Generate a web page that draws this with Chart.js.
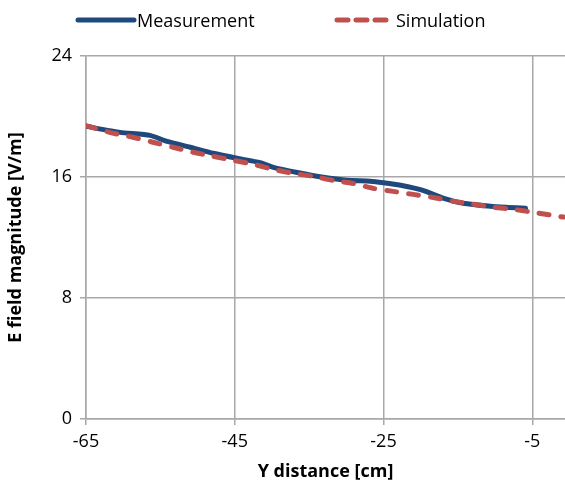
<!DOCTYPE html>
<html>
<head>
<meta charset="utf-8">
<script src="https://cdn.jsdelivr.net/npm/chart.js@4"></script>
<style>
  html, body { margin: 0; padding: 0; background: #fff; }
  #wrap { position: relative; width: 565px; height: 495px; }
  #leyenda { position: absolute; left: 0; top: 0; width: 565px; height: 40px;
             font-family: 'Open Sans', 'Liberation Sans', sans-serif; font-size: 18px; color: #000; }
  .item { position: absolute; top: 6px; height: 28px; line-height: 28px; white-space: nowrap; }
  .item svg { position: absolute; top: 0; }
  .item span { position: absolute; top: 0; }
</style>
</head>
<body>
<div id="wrap">
  <canvas id="grafico" width="565" height="495"></canvas>
  <div id="leyenda"></div>
</div>
<script>
// valores
const measX = [-65, -60.4, -56.4, -54.1, -51.0, -47.9, -44.7, -41.6, -39.8, -36.6, -33.1, -29.9, -26.8, -25.0, -22.7, -19.6, -17.0, -14.3, -10.6, -8.3, -5.9];
const measY = [19.35, 18.95, 18.75, 18.35, 17.97, 17.57, 17.24, 16.95, 16.64, 16.3, 15.98, 15.78, 15.72, 15.62, 15.45, 15.1, 14.6, 14.26, 14.06, 13.99, 13.93];
const simX = [-65, -61.4, -58.7, -56.0, -53.3, -50.6, -47.9, -45.2, -42.5, -39.8, -37.1, -34.4, -31.8, -29.1, -26.4, -23.7, -21.0, -18.3, -15.6, -12.9, -10.2, -7.5, -4.8, -0.8];
const simY = [19.4, 18.9, 18.63, 18.3, 17.97, 17.64, 17.37, 17.1, 16.84, 16.5, 16.24, 16.04, 15.78, 15.58, 15.25, 15.05, 14.85, 14.65, 14.39, 14.2, 14.0, 13.86, 13.66, 13.35];
const xTicks = [-65, -45, -25, -5];
const yTicks = [0, 8, 16, 24];

const fuente = "'Open Sans', 'Liberation Sans', sans-serif";
const gris = '#a8a8a8';

function puntos(xs, ys) {
  return xs.map((x, i) => ({ x: x, y: ys[i] }));
}

const ctx = document.getElementById('grafico').getContext('2d');
const grafico = new Chart(ctx, {
  type: 'scatter',
  data: {
    datasets: [{
      label: 'Measurement',
      data: puntos(measX, measY),
      showLine: true,
      borderColor: '#1f497d',
      backgroundColor: '#1f497d',
      borderWidth: 5,
      borderCapStyle: 'round',
      borderJoinStyle: 'round',
      pointRadius: 0,
      tension: 0.2,
      order: 1
    }, {
      label: 'Simulation',
      data: puntos(simX, simY),
      showLine: true,
      borderColor: '#c0504d',
      backgroundColor: '#c0504d',
      borderWidth: 5,
      borderDash: [10, 12],
      borderCapStyle: 'round',
      pointRadius: 0,
      tension: 0.2,
      order: 0
    }]
  },
  options: {
    responsive: false,
    animation: false,
    layout: { padding: { left: 0, right: 0, top: 56, bottom: 8 } },
    plugins: {
      tooltip: { enabled: false },
      legend: { display: false }
    },
    scales: {
      x: {
        type: 'linear',
        min: -65,
        max: -0.6,
        afterBuildTicks: s => { s.ticks = xTicks.map(v => ({ value: v })); },
        afterFit: s => { s.height = 68; },
        grid: { color: gris, lineWidth: 1.5, tickLength: 6 },
        border: { color: gris, width: 1.5 },
        ticks: { color: '#000', font: { family: fuente, size: 18 }, padding: 6, maxRotation: 0 },
        title: { display: true, text: 'Y distance [cm]', color: '#000', font: { family: fuente, size: 18, weight: 'bold' }, padding: { top: 4 } }
      },
      y: {
        min: 0,
        max: 24,
        afterBuildTicks: s => { s.ticks = yTicks.map(v => ({ value: v })); },
        afterFit: s => { s.width = 86; },
        grid: { color: gris, lineWidth: 1.5, tickLength: 6 },
        border: { color: gris, width: 1.5 },
        ticks: { color: '#000', font: { family: fuente, size: 18 }, padding: 8 },
        title: { display: true, text: 'E field magnitude [V/m]', color: '#000', font: { family: fuente, size: 18, weight: 'bold' }, padding: { top: 5, bottom: 0 } }
      }
    }
  }
});

// leyenda en html, con las etiquetas y colores de los datasets
const posLeyenda = [{ linea: 75, texto: 137 }, { linea: 334, texto: 396 }];
const leyenda = document.getElementById('leyenda');
grafico.data.datasets.forEach((ds, i) => {
  const p = posLeyenda[i];
  const item = document.createElement('div');
  item.className = 'item';
  item.style.left = '0px';
  const dash = ds.borderDash ? 'stroke-dasharray="11 8"' : '';
  const largo = ds.borderDash ? 49 : 56;
  item.innerHTML =
    '<svg width="80" height="28" style="left:' + p.linea + 'px">' +
    '<line x1="3" y1="14" x2="' + (3 + largo) + '" y2="14" stroke="' + ds.borderColor +
    '" stroke-width="5" stroke-linecap="round" ' + dash + '/></svg>' +
    '<span style="left:' + p.texto + 'px">' + ds.label + '</span>';
  leyenda.appendChild(item);
});
</script>
</body>
</html>
